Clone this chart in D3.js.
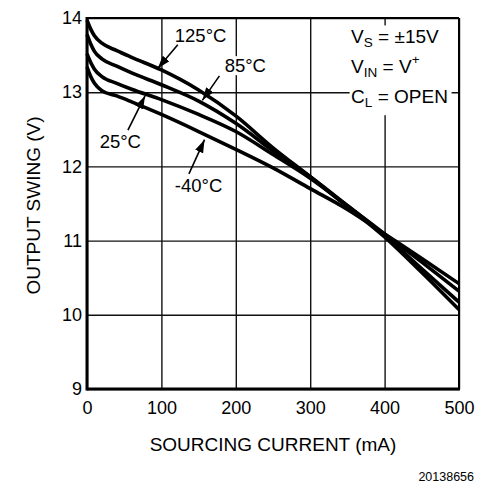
<!DOCTYPE html>
<html>
<head>
<meta charset="utf-8">
<script src="https://cdn.jsdelivr.net/npm/d3@7"></script>
<style>
  body { margin: 0; background: #fff; }
  text { font-family: "Liberation Sans", Arial, sans-serif; fill: #000; }
</style>
</head>
<body>
<div class="chart"></div>
<script>
// data
const current = [0, 5, 10, 20, 40, 60, 100, 150, 200, 250, 300, 350, 400, 450, 500]
const swing125 = [13.97, 13.85, 13.76, 13.66, 13.56, 13.47, 13.30, 13.03, 12.68, 12.25, 11.86, 11.46, 11.05, 10.57, 10.07]
const swing85 = [13.78, 13.65, 13.55, 13.45, 13.35, 13.26, 13.10, 12.88, 12.58, 12.21, 11.86, 11.47, 11.07, 10.62, 10.17]
const swing25 = [13.52, 13.40, 13.31, 13.21, 13.12, 13.04, 12.90, 12.70, 12.47, 12.16, 11.84, 11.47, 11.09, 10.71, 10.32]
const swingM40 = [13.34, 13.21, 13.12, 13.02, 12.95, 12.87, 12.70, 12.47, 12.23, 11.98, 11.70, 11.42, 11.09, 10.76, 10.42]
const temps = ['125°C', '85°C', '25°C', '-40°C']
const xTicks = [0, 100, 200, 300, 400, 500]
const yTicks = [9, 10, 11, 12, 13, 14]

// label text position, arrow tail and arrow tip (in data units)
const labelAt = [[118, 13.67], [185, 13.27], [17, 12.25], [118, 11.66]]
const arrowFrom = [[122, 13.64], [178, 13.22], [55, 12.49], [137, 11.90]]
const arrowTo = [[95, 13.32], [155, 12.89], [78, 12.95], [158, 12.36]]

const margin = {top: 18, right: 26, bottom: 109, left: 87}
const width = 485 - margin.left - margin.right
const height = 498 - margin.top - margin.bottom

const root = d3.select('.chart').append('svg')
    .attr('width', 485)
    .attr('height', 498)

root.append('defs').append('marker')
    .attr('id', 'head')
    .attr('markerUnits', 'userSpaceOnUse')
    .attr('viewBox', '0 0 12 8')
    .attr('refX', 12).attr('refY', 4)
    .attr('markerWidth', 13).attr('markerHeight', 9)
    .attr('orient', 'auto')
    .append('path')
    .attr('d', 'M0,0 L12,4 L0,8 Z')
    .attr('fill', '#000')

const svg = root.append('g')
    .attr('transform', 'translate(' + margin.left + ',' + margin.top + ')')

const x = d3.scaleLinear().domain([0, 500]).range([0, width])
const y = d3.scaleLinear().domain([9, 14]).range([height, 0])

// grid + tick labels
svg.append('g')
    .attr('transform', 'translate(0,' + height + ')')
    .call(d3.axisBottom(x).tickValues(xTicks).tickSize(-height).tickPadding(12).tickFormat(d3.format('d')))
    .call(g => g.select('.domain').remove())
    .call(g => g.selectAll('line').attr('stroke', '#111').attr('stroke-width', 1.4))
    .call(g => g.selectAll('text').style('font-size', '18px'))

svg.append('g')
    .call(d3.axisLeft(y).tickValues(yTicks).tickSize(-width).tickPadding(5).tickFormat(d3.format('d')))
    .call(g => g.select('.domain').remove())
    .call(g => g.selectAll('line').attr('stroke', '#111').attr('stroke-width', 1.4))
    .call(g => g.selectAll('text').style('font-size', '18px'))

// condition box (white background cutting the grid)
const box = svg.append('g')
box.append('rect')
    .attr('x', x(353)).attr('y', y(13.9))
    .attr('width', x(490) - x(353)).attr('height', y(12.69) - y(13.9))
    .attr('fill', '#fff')

const boxText = box.append('text').style('font-size', '19px')
let t = boxText.append('tspan').attr('x', x(355)).attr('y', y(13.66))
t.append('tspan').text('V')
t.append('tspan').text('S').attr('dy', 4).style('font-size', '13.5px')
t.append('tspan').text(' = ±15V').attr('dy', -4)

t = boxText.append('tspan').attr('x', x(355)).attr('y', y(13.26))
t.append('tspan').text('V')
t.append('tspan').text('IN').attr('dy', 4).style('font-size', '13.5px')
t.append('tspan').text(' = V').attr('dy', -4)
t.append('tspan').text('+').attr('dy', -9).style('font-size', '13.5px')

t = boxText.append('tspan').attr('x', x(355)).attr('y', y(12.86))
t.append('tspan').text('C')
t.append('tspan').text('L').attr('dy', 4).style('font-size', '13.5px')
t.append('tspan').text(' = OPEN').attr('dy', -4)

// curves
const series = [swing125, swing85, swing25, swingM40]
const line = d3.line()
    .x((d, i) => x(current[i]))
    .y(d => y(d))
    .curve(d3.curveMonotoneX)

svg.selectAll('.curve')
    .data(series)
    .enter()
    .append('path')
    .attr('class', 'curve')
    .attr('d', line)
    .attr('fill', 'none')
    .attr('stroke', '#000')
    .attr('stroke-width', 3.6)
    .attr('stroke-linejoin', 'round')

// temperature labels with arrows
temps.forEach(function (name, i) {
    const bg = svg.append('rect').attr('fill', '#fff')
    const lbl = svg.append('text')
        .attr('x', x(labelAt[i][0]))
        .attr('y', y(labelAt[i][1]))
        .style('font-size', '18.5px')
        .text(name)
    const bb = lbl.node().getBBox()
    bg.attr('x', bb.x - 1).attr('y', bb.y + 1)
        .attr('width', bb.width + 2).attr('height', bb.height - 2)

    svg.append('line')
        .attr('x1', x(arrowFrom[i][0])).attr('y1', y(arrowFrom[i][1]))
        .attr('x2', x(arrowTo[i][0])).attr('y2', y(arrowTo[i][1]))
        .attr('stroke', '#000')
        .attr('stroke-width', 1.6)
        .attr('marker-end', 'url(#head)')
})

// frame
svg.append('line').attr('x1', 0).attr('x2', width).attr('y1', 0).attr('y2', 0)
    .attr('stroke', '#000').attr('stroke-width', 2)
svg.append('line').attr('x1', width).attr('x2', width).attr('y1', 0).attr('y2', height)
    .attr('stroke', '#000').attr('stroke-width', 2)
svg.append('line').attr('x1', 0).attr('x2', 0).attr('y1', -1).attr('y2', height + 1.5)
    .attr('stroke', '#000').attr('stroke-width', 3)
svg.append('line').attr('x1', 0).attr('x2', width + 1).attr('y1', height).attr('y2', height)
    .attr('stroke', '#000').attr('stroke-width', 3)

// axis titles
svg.append('text')
    .attr('x', width / 2)
    .attr('y', height + 62)
    .attr('text-anchor', 'middle')
    .style('font-size', '19px')
    .text('SOURCING CURRENT (mA)')

svg.append('text')
    .attr('transform', 'translate(-47,' + (height / 2 + 2) + ') rotate(-90)')
    .attr('text-anchor', 'middle')
    .style('font-size', '19px')
    .text('OUTPUT SWING (V)')

root.append('text')
    .attr('x', 474)
    .attr('y', 481)
    .attr('text-anchor', 'end')
    .style('font-size', '12.5px')
    .text('20138656')
</script>
</body>
</html>
